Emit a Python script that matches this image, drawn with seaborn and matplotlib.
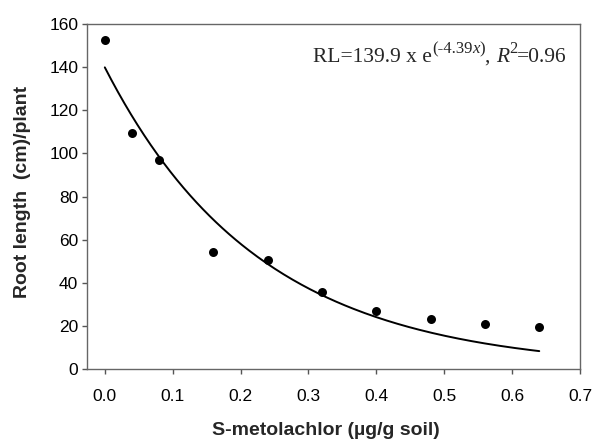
import matplotlib
matplotlib.use("Agg")
import matplotlib.pyplot as plt
from matplotlib.transforms import offset_copy
import numpy as np
import pandas as pd
import seaborn as sns

# measured root length per dose
dose = [0.0, 0.04, 0.08, 0.16, 0.24, 0.32, 0.40, 0.48, 0.56, 0.64]
root_length = [152.4, 109.5, 96.8, 54.5, 50.6, 35.6, 26.9, 23.2, 20.9, 19.5]

# fitted model RL = a * exp(b * x), as printed on the chart
fit_a = 139.9
fit_b = -4.39
fit_r2 = 0.96

x_ticks = [0.0, 0.1, 0.2, 0.3, 0.4, 0.5, 0.6, 0.7]
y_ticks = [0, 20, 40, 60, 80, 100, 120, 140, 160]

sns.set_theme(style="white")
plt.rcParams["font.family"] = ["Liberation Sans", "DejaVu Sans"]

df = pd.DataFrame({"dose": dose, "rl": root_length})
x_fit = np.linspace(min(dose), max(dose), 200)
fit_df = pd.DataFrame({"dose": x_fit, "rl": fit_a * np.exp(fit_b * x_fit)})

fig = plt.figure(figsize=(5.97, 4.41), dpi=100)
ax = fig.add_axes([0.146, 0.1626, 0.8255, 0.783])

sns.lineplot(data=fit_df, x="dose", y="rl", color="black", lw=1.4, ax=ax)
sns.scatterplot(data=df, x="dose", y="rl", color="black", s=42,
                edgecolor="black", linewidth=0, zorder=3, ax=ax)

ax.set_xlim(-0.026, 0.7)
ax.set_ylim(0, 160)
ax.set_xticks(x_ticks)
ax.set_xticklabels([f"{t:.1f}" for t in x_ticks])
ax.set_yticks(y_ticks)
ax.tick_params(axis="both", direction="out", length=3.5, width=1,
               bottom=True, left=True,
               color="#555555", labelsize=12.5, labelcolor="black", pad=3)
ax.tick_params(axis="x", pad=11)
for sp in ax.spines.values():
    sp.set_color("#666666")
    sp.set_linewidth(1.0)

ax.set_xlabel("S-metolachlor (µg/g soil)", fontsize=14, fontweight="bold")
ax.xaxis.label.set_va("baseline")
ax.xaxis.set_label_coords(0.4845, -0.191)
ax.set_ylabel("Root length  (cm)/plant", fontsize=14, fontweight="bold")
ax.yaxis.label.set_va("center")
ax.yaxis.set_label_coords(-0.132, 0.515)

# equation text, built piece by piece so the superscripts sit like the original
serif = ["Liberation Serif", "DejaVu Serif"]
main_sz, sup_sz, rise = 15.5, 12, 6.5
pieces = [
    (f"RL={fit_a:.1f} x e", main_sz, "normal", 0),
    (f"({fit_b:.2f}", sup_sz, "normal", rise),
    ("x", sup_sz, "italic", rise),
    (")", sup_sz, "normal", rise),
    (", ", main_sz, "normal", 0),
    ("R", main_sz, "italic", 0),
    ("2", sup_sz, "normal", rise),
    (f"={fit_r2:.2f}", main_sz, "normal", 0),
]
fig.canvas.draw()
renderer = fig.canvas.get_renderer()
widths = []
for txt, size, style, _ in pieces:
    probe = fig.text(0, 0, txt, fontsize=size, style=style, family=serif)
    widths.append(probe.get_window_extent(renderer).width)
    probe.remove()

x_px = 567 - sum(widths)
base_px = 441 - 62
for (txt, size, style, r), w in zip(pieces, widths):
    fig.text(0, 0, txt, fontsize=size, style=style, family=serif,
             ha="left", va="baseline",
             transform=offset_copy(fig.transFigure, fig=fig,
                                   x=x_px * 72 / 100,
                                   y=base_px * 72 / 100 + r,
                                   units="points"))
    x_px += w

fig.savefig("out.png", dpi=100)
